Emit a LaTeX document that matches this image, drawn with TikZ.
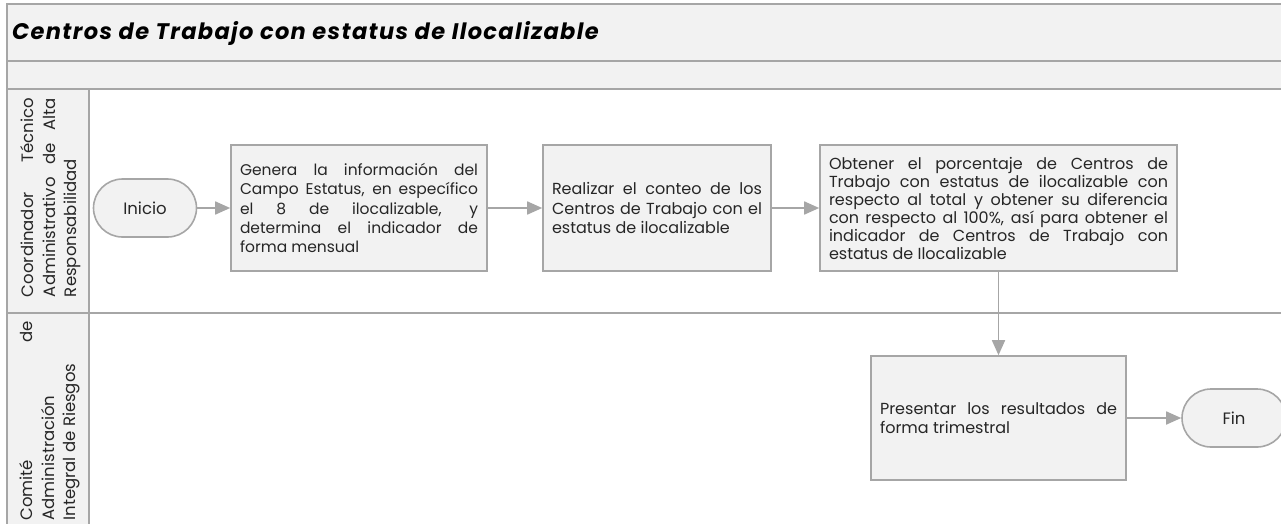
\documentclass[tikz,border=0pt]{standalone}
\usepackage{fontspec}
\setmainfont{Poppins}
\usetikzlibrary{arrows.meta,positioning}
\definecolor{LaneGray}{HTML}{A6A6A6}
\definecolor{BoxFill} {HTML}{F2F2F2}
\definecolor{InkDark} {HTML}{262626}
\hyphenpenalty=10000
\exhyphenpenalty=10000
\tikzset{
  procbox/.style={draw=LaneGray,line width=1.6pt,fill=BoxFill,text=InkDark,
    font=\fontsize{16}{19.3}\selectfont,align=justify,inner xsep=9pt,minimum height=126pt},
  termbox/.style={draw=LaneGray,line width=1.6pt,fill=BoxFill,text=InkDark,
    font=\fontsize{16.5}{19.3}\selectfont,rounded corners=29pt,minimum width=103pt,minimum height=58pt},
  flowarrow/.style={draw=LaneGray,line width=1.7pt,-{Triangle[length=15pt,width=13pt]}},
  lanelabel/.style={rotate=90,text width=199pt,align=justify,text=InkDark,inner sep=0pt,
    font=\fontsize{16.5}{21.5}\selectfont},
  laneline/.style={LaneGray,line width=2pt}
}
\begin{document}
\begin{tikzpicture}[x=1pt,y=-1pt]
  \clip (0,0) rectangle (1281,523);
  % carriles
  \fill[BoxFill] (7,4) rectangle (1300,89);
  \fill[BoxFill] (7,89) rectangle (89,530);
  \draw[laneline] (1300,4) -- (7,4) -- (7,530);
  \foreach \yy in {61,89,313}{
    \draw[laneline] (7,\yy) -- (1300,\yy);
  }
  \draw[laneline] (89,89) -- (89,530);
  \node[anchor=west,inner sep=0pt,text=black,
    font=\fontsize{22.5}{26}\selectfont\bfseries\itshape\addfontfeature{LetterSpace=6}]
    (titulo) at (12,33) {Centros de Trabajo con estatus de Ilocalizable};
  % encabezados de carril
  \node[lanelabel] (coordinador) at (51,197.5)
    {Coordinador\hfill Técnico\\ Administrativo\hfill de\hfill Alta\\ Responsabilidad};
  \node[lanelabel] (comite) at (50,421)
    {Comité\hfill de\\ Administración\\ Integral de Riesgos};
  % flujo
  \node[termbox] (inicio) at (145,208) {Inicio};
  \node[procbox,text width=238pt,font=\fontsize{15.5}{19.3}\selectfont] (genera) at (359,208)
    {Genera la información del\linebreak Campo Estatus, en específico\linebreak el 8 de ilocalizable, y\linebreak determina el indicador de\linebreak forma mensual};
  \node[procbox,text width=210pt] (conteo) at (657,208)
    {Realizar el conteo de los\linebreak Centros de Trabajo con el\linebreak estatus de ilocalizable};
  \node[procbox,text width=339pt,font=\fontsize{16}{18}\selectfont] (porcentaje) at (998.5,208)
    {Obtener el porcentaje de Centros de\linebreak Trabajo con estatus de ilocalizable con\linebreak respecto al total y obtener su diferencia\linebreak con respecto al 100\%, así para obtener el\linebreak indicador de Centros de Trabajo con\linebreak estatus de Ilocalizable};
  \node[procbox,text width=237pt,minimum height=124pt] (presenta) at (998.5,418)
    {Presentar los resultados de\linebreak forma trimestral};
  \node[termbox,minimum width=104pt] (fin) at (1234,418) {Fin};
  \draw[flowarrow] (inicio) -- (genera);
  \draw[flowarrow] (genera) -- (conteo);
  \draw[flowarrow] (conteo) -- (porcentaje);
  \draw[flowarrow] (porcentaje) -- (presenta);
  \draw[flowarrow] (presenta) -- (fin);
\end{tikzpicture}
\end{document}
